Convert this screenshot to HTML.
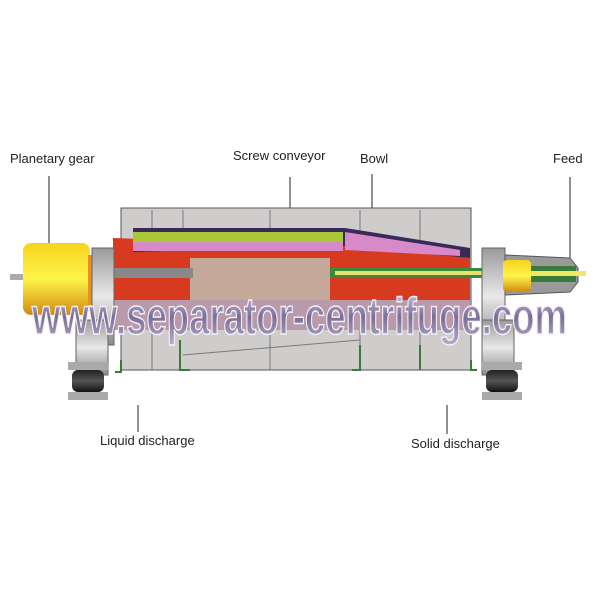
<!DOCTYPE html>
<html><head><meta charset="utf-8"><style>
body{margin:0;background:#fff}
svg{display:block}
text{font-family:"Liberation Sans",sans-serif;font-size:13px;fill:#222}
</style></head><body>
<svg width="600" height="600" viewBox="0 0 600 600" xmlns="http://www.w3.org/2000/svg">
<defs>
<linearGradient id="yg" x1="0" y1="0" x2="0" y2="1"><stop offset="0" stop-color="#f7d21c"/><stop offset=".5" stop-color="#fff44a"/><stop offset="1" stop-color="#d08a10"/></linearGradient>
<linearGradient id="gg" x1="0" y1="0" x2="0" y2="1"><stop offset="0" stop-color="#9a9a9a"/><stop offset=".5" stop-color="#e8e8e8"/><stop offset="1" stop-color="#8a8a8a"/></linearGradient>
<linearGradient id="fg" x1="0" y1="0" x2="0" y2="1"><stop offset="0" stop-color="#222"/><stop offset=".5" stop-color="#555"/><stop offset="1" stop-color="#111"/></linearGradient>
<linearGradient id="wm" x1="0" y1="0" x2="0" y2="1"><stop offset="0" stop-color="#d8d0e8"/><stop offset=".5" stop-color="#7a6e98"/><stop offset="1" stop-color="#b8b0c8"/></linearGradient>
</defs>
<text x="10" y="163">Planetary gear</text>
<text x="233" y="160">Screw conveyor</text>
<text x="360" y="163">Bowl</text>
<text x="553" y="163">Feed</text>
<text x="100" y="445">Liquid discharge</text>
<text x="411" y="448">Solid discharge</text>
<g stroke="#222" stroke-width="1">
<line x1="49" y1="176" x2="49" y2="248"/>
<line x1="290" y1="177" x2="290" y2="232"/>
<line x1="372" y1="174" x2="372" y2="230"/>
<line x1="570" y1="177" x2="570" y2="272"/>
<line x1="138" y1="405" x2="138" y2="432"/>
<line x1="447" y1="405" x2="447" y2="434"/>
</g>
<rect x="121" y="208" width="350" height="162" fill="#cfcccc" stroke="#555"/>
<g stroke="#7a7a7a" fill="none"><line x1="152" y1="210" x2="152" y2="370"/><line x1="183" y1="210" x2="183" y2="300"/><line x1="270" y1="210" x2="270" y2="370"/><line x1="360" y1="210" x2="360" y2="370"/><line x1="420" y1="210" x2="420" y2="370"/><line x1="183" y1="355" x2="360" y2="340"/></g>
<g stroke="#3a7a3a" stroke-width="2" fill="none"><path d="M121 360v12h-6M180 340v30h10M360 345v25h-8M420 345v25M471 360v10h6"/></g>
<path d="M113 238 L470 250 L470 300 L113 300 Z" fill="#d83a20"/>
<path d="M133 228 L345 228 L470 248 L470 258 L345 246 L133 252 Z" fill="#3a2a5a"/>
<rect x="133" y="232" width="210" height="10" fill="#a8c838"/>
<rect x="133" y="242" width="210" height="9" fill="#d88ac8"/>
<path d="M345 232 L460 250 L460 256 L345 250 Z" fill="#d88ac8"/>
<rect x="190" y="258" width="140" height="42" fill="#c4a89a"/>
<rect x="113" y="268" width="80" height="10" fill="#888"/>
<rect x="330" y="268" width="180" height="10" fill="#3a8a3a"/>
<rect x="335" y="271" width="240" height="4" fill="#e8e070"/>
<rect x="113" y="300" width="357" height="30" fill="#b89aaa"/>
<rect x="10" y="274" width="16" height="6" fill="#aaa"/>
<rect x="23" y="243" width="67" height="72" rx="8" fill="url(#yg)"/>
<rect x="88" y="255" width="8" height="50" fill="#e89020"/>
<rect x="92" y="248" width="22" height="97" fill="url(#gg)" stroke="#666"/>
<rect x="76" y="320" width="32" height="55" fill="url(#gg)" stroke="#666"/>
<rect x="482" y="248" width="23" height="97" fill="url(#gg)" stroke="#666"/>
<rect x="482" y="320" width="32" height="55" fill="url(#gg)" stroke="#666"/>
<rect x="68" y="362" width="40" height="8" fill="#aaa"/><rect x="72" y="370" width="32" height="22" rx="6" fill="url(#fg)"/><rect x="68" y="392" width="40" height="8" fill="#aaa"/>
<rect x="482" y="362" width="40" height="8" fill="#aaa"/><rect x="486" y="370" width="32" height="22" rx="6" fill="url(#fg)"/><rect x="482" y="392" width="40" height="8" fill="#aaa"/>
<path d="M505 255 L570 258 L578 268 L578 282 L570 292 L505 295 Z" fill="#999" stroke="#555"/>
<rect x="503" y="260" width="28" height="32" rx="4" fill="url(#yg)"/>
<rect x="531" y="266" width="45" height="16" fill="#3a7a3a"/>
<rect x="531" y="271" width="55" height="5" fill="#f0e860"/>
<text x="32" y="334" textLength="535" lengthAdjust="spacingAndGlyphs" style="fill:url(#wm);stroke:#f4f0f8;stroke-width:1.5;font-size:52px;font-weight:bold">www.separator-centrifuge.com</text>
</svg>
</body></html>
